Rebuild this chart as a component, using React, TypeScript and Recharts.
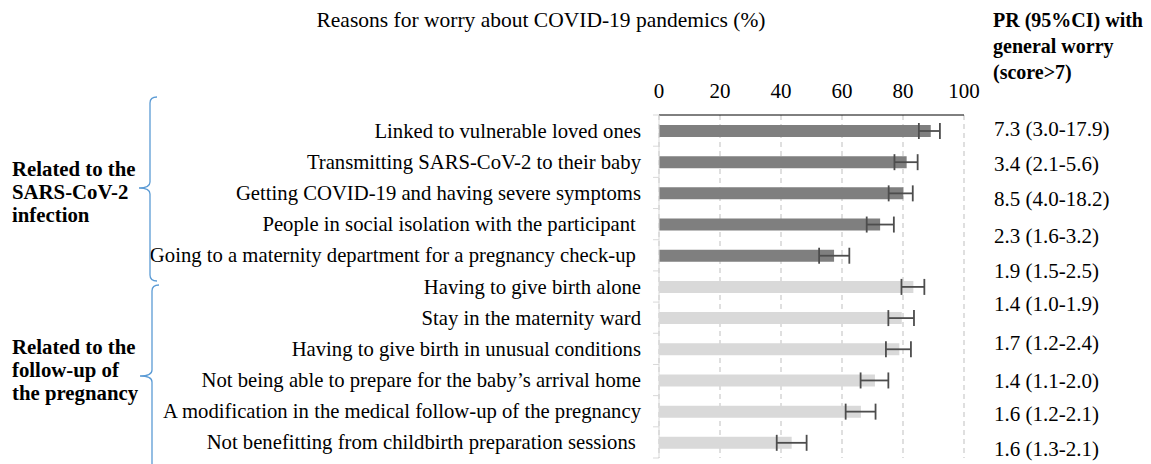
import React from "react";
import { Bar, BarChart, CartesianGrid, Cell, ErrorBar, XAxis, YAxis } from "recharts";

const reasons = [
  "Linked to vulnerable loved ones",
  "Transmitting SARS-CoV-2 to their baby",
  "Getting COVID-19 and having severe symptoms",
  "People in social isolation with the participant ",
  "Going to a maternity department for a pregnancy check-up ",
  "Having to give birth alone",
  "Stay in the maternity ward",
  "Having to give birth in unusual conditions",
  "Not being able to prepare for the baby\u2019s arrival home",
  "A modification in the medical follow-up of the pregnancy",
  "Not benefitting from childbirth preparation sessions ",
];

const groupOf = ["infection", "infection", "infection", "infection", "infection",
  "followup", "followup", "followup", "followup", "followup", "followup"];

const worryPct = [89.1, 81.2, 80.1, 72.5, 57.4, 83.4, 79.6, 78.8, 70.8, 66.2, 43.5];
const ciLow = [85.2, 77.2, 75.3, 68.1, 52.5, 79.5, 75.2, 74.4, 66.1, 61.2, 38.6];
const ciHigh = [92.1, 84.8, 83.2, 77.0, 62.4, 87.0, 83.6, 82.6, 75.2, 71.0, 48.4];

const prLabels = [
  "7.3 (3.0-17.9)", "3.4 (2.1-5.6)", "8.5 (4.0-18.2)", "2.3 (1.6-3.2)", "1.9 (1.5-2.5)",
  "1.4 (1.0-1.9)", "1.7 (1.2-2.4)", "1.4 (1.1-2.0)", "1.6 (1.2-2.1)", "1.6 (1.3-2.1)",
];

const xTicks = [0, 20, 40, 60, 80, 100];

const groupTitles = {
  infection: ["Related to the", "SARS-CoV-2", "infection"],
  followup: ["Related to the", "follow-up of", "the pregnancy"],
};

// layout
const W = 1151;
const H = 464;
const M = { top: 85, right: 187, bottom: 6, left: 0 };
const X_AXIS_H = 30;
const Y_AXIS_W = 659;
const BAND = (H - M.top - X_AXIS_H - M.bottom) / reasons.length;
const PR_Y = [129, 163.5, 199, 236, 270.5, 304, 343, 380.5, 414, 448.5];
const FONT = "'Liberation Serif', 'Times New Roman', serif";
const BRACE = "#5b9bd5";

const colors: Record<string, string> = { infection: "#7f7f7f", followup: "#d9d9d9" };

const data = reasons.map((reason, i) => ({
  reason,
  pct: worryPct[i],
  err: [worryPct[i] - ciLow[i], ciHigh[i] - worryPct[i]],
  group: groupOf[i],
}));

function ReasonTick(props: any) {
  const { x, y, payload, index } = props;
  const ax = x + 18;
  return (
    <g>
      <line x1={ax - 6} x2={ax} y1={y - BAND / 2} y2={y - BAND / 2} stroke="#d9d9d9" />
      {index === reasons.length - 1 && (
        <line x1={ax - 6} x2={ax} y1={y + BAND / 2} y2={y + BAND / 2} stroke="#d9d9d9" />
      )}
      <text x={x} y={y} textAnchor="end" dominantBaseline="central" fontSize={20.7} fill="#000"
        style={{ whiteSpace: "pre" }}>
        {payload.value}
      </text>
    </g>
  );
}

export default function App() {
  return (
    <div style={{ position: "absolute", left: 0, top: 0, width: W, height: H, background: "#fff", fontFamily: FONT }}>
      <BarChart width={W} height={H} data={data} layout="vertical" margin={M} style={{ fontFamily: FONT }}>
        <CartesianGrid horizontal={false} stroke="#bfbfbf" strokeDasharray="5 4" />
        <XAxis
          type="number"
          orientation="top"
          domain={[0, 100]}
          ticks={xTicks}
          height={X_AXIS_H}
          axisLine={{ stroke: "#000" }}
          tickLine={false}
          tickSize={0}
          tickMargin={17}
          tick={{ fontSize: 21, fill: "#000" }}
        />
        <YAxis
          type="category"
          dataKey="reason"
          width={Y_AXIS_W}
          interval={0}
          axisLine={{ stroke: "#d9d9d9" }}
          tickLine={false}
          tickSize={0}
          tickMargin={18}
          tick={<ReasonTick />}
        />
        <Bar dataKey="pct" barSize={12} isAnimationActive={false}>
          {data.map((d, i) => (
            <Cell key={i} fill={colors[d.group]} />
          ))}
          <ErrorBar dataKey="err" direction="x" width={8} stroke="#4d4d4d" strokeWidth={1.8} />
        </Bar>
      </BarChart>
      <svg width={W} height={H} style={{ position: "absolute", left: 0, top: 0, pointerEvents: "none" }}>
        <text x={541} y={20} textAnchor="middle" dominantBaseline="central" fontSize={21.5} fill="#000">
          Reasons for worry about COVID-19 pandemics (%)
        </text>
        {["PR (95%CI) with", "general worry", "(score>7)"].map((t, i) => (
          <text key={t} x={993} y={20 + i * 26} dominantBaseline="central" fontSize={20} fontWeight="bold" fill="#000">
            {t}
          </text>
        ))}
        {prLabels.map((t, i) => (
          <text key={i} x={994} y={PR_Y[i]} dominantBaseline="central" fontSize={21} fill="#000">
            {t}
          </text>
        ))}
        {groupTitles.infection.map((t, i) => (
          <text key={"a" + i} x={12} y={168 + i * 23} dominantBaseline="central" fontSize={20.8} fontWeight="bold" fill="#000">
            {t}
          </text>
        ))}
        {groupTitles.followup.map((t, i) => (
          <text key={"b" + i} x={12} y={346 + i * 23} dominantBaseline="central" fontSize={20.8} fontWeight="bold" fill="#000">
            {t}
          </text>
        ))}
        <path
          d="M157 97 Q150 97 150 103 L150 182 Q150 188 139 188 Q150 188 150 194 L150 275 Q150 281 157 281"
          fill="none" stroke={BRACE} strokeWidth={1.3}
        />
        <path
          d="M159 285 Q152 285 152 291 L152 370 Q152 376 140 376 Q152 376 152 382 L152 470"
          fill="none" stroke={BRACE} strokeWidth={1.3}
        />
      </svg>
    </div>
  );
}
